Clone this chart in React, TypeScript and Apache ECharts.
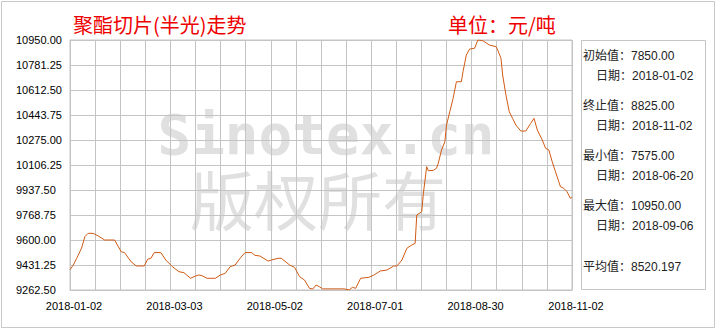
import React, { useEffect, useRef } from "react";
import * as echarts from "echarts";

// ---- data ----
const startDate = "2018-01-02";
const endDate = "2018-11-02";

const priceDates = [
  "2018-01-02", "2018-01-04", "2018-01-06", "2018-01-09", "2018-01-11", "2018-01-13", "2018-01-16", "2018-01-19",
  "2018-01-23", "2018-01-29", "2018-02-02", "2018-02-04", "2018-02-08", "2018-02-11", "2018-02-16", "2018-02-18",
  "2018-02-20", "2018-02-22", "2018-02-26", "2018-03-01", "2018-03-05", "2018-03-09", "2018-03-12", "2018-03-16",
  "2018-03-19", "2018-03-21", "2018-03-23", "2018-03-26", "2018-03-31", "2018-04-03", "2018-04-06", "2018-04-09",
  "2018-04-12", "2018-04-15", "2018-04-18", "2018-04-22", "2018-04-24", "2018-04-27", "2018-05-02", "2018-05-04",
  "2018-05-08", "2018-05-10", "2018-05-15", "2018-05-18", "2018-05-21", "2018-05-24", "2018-05-27", "2018-05-29",
  "2018-05-31", "2018-06-02", "2018-06-04", "2018-06-17", "2018-06-20", "2018-06-22", "2018-06-24", "2018-06-27",
  "2018-07-02", "2018-07-05", "2018-07-09", "2018-07-13", "2018-07-17", "2018-07-19", "2018-07-22", "2018-07-25",
  "2018-07-28", "2018-07-30", "2018-07-31", "2018-08-03", "2018-08-04", "2018-08-06", "2018-08-07", "2018-08-10",
  "2018-08-12", "2018-08-13", "2018-08-15", "2018-08-17", "2018-08-18", "2018-08-20", "2018-08-22", "2018-08-24",
  "2018-08-27", "2018-08-28", "2018-08-30", "2018-09-01", "2018-09-04", "2018-09-06", "2018-09-09", "2018-09-13",
  "2018-09-17", "2018-09-18", "2018-09-20", "2018-09-21", "2018-09-23", "2018-09-25", "2018-09-27", "2018-09-29",
  "2018-10-02", "2018-10-05", "2018-10-08", "2018-10-10", "2018-10-12", "2018-10-15", "2018-10-17", "2018-10-19",
  "2018-10-21", "2018-10-23", "2018-10-25", "2018-10-26", "2018-10-28", "2018-10-30", "2018-11-01", "2018-11-02",
];

const prices = [
  7850, 7912, 8000, 8140, 8295, 8340, 8340, 8305,
  8250, 8250, 8092, 8080, 7957, 7900, 7900, 7990,
  8003, 8080, 8080, 7980, 7890, 7822, 7809, 7733,
  7764, 7777, 7768, 7733, 7733, 7777, 7800, 7890,
  7912, 8003, 8080, 8080, 8043, 8034, 7966, 7980,
  8003, 8003, 7912, 7881, 7755, 7710, 7598, 7588,
  7642, 7620, 7590, 7590, 7575, 7611, 7598, 7733,
  7746, 7777, 7832, 7845, 7899, 7899, 7980, 8138,
  8183, 8205, 8587, 8632, 8880, 9240, 9185, 9190,
  9220, 9285, 9465, 9577, 9802, 9982, 10162, 10387,
  10387, 10522, 10747, 10828, 10838, 10950, 10940, 10882,
  10860, 10815, 10703, 10477, 10207, 9982, 9892, 9802,
  9721, 9721, 9825, 9892, 9735, 9600, 9488, 9465,
  9307, 9172, 9037, 8970, 8948, 8902, 8813, 8825,
];

const yMin = 7575;
const yMax = 10950;
const yTickLabels = [
  "9262.50", "9431.25", "9600.00", "9768.75", "9937.50", "10106.25",
  "10275.00", "10443.75", "10612.50", "10781.25", "10950.00",
];
const xTickLabels = ["2018-01-02", "2018-03-03", "2018-05-02", "2018-07-01", "2018-08-30", "2018-11-02"];
const xGridSlots = 20;

const titleText = "聚酯切片(半光)走势";
const unitText = "单位：元/吨";
const statLabels = ["初始值：7850.00", "日期：2018-01-02", "终止值：8825.00", "日期：2018-11-02",
  "最小值：7575.00", "日期：2018-06-20", "最大值：10950.00", "日期：2018-09-06", "平均值：8520.197"];

// ---- helpers ----
function buildDays(a: string, b: string): string[] {
  const out: string[] = [];
  const s = Date.parse(a + "T00:00:00Z");
  const e = Date.parse(b + "T00:00:00Z");
  for (let t = s; t <= e; t += 86400000) out.push(new Date(t).toISOString().slice(0, 10));
  return out;
}

const FONT = "'Liberation Sans', 'Noto Sans CJK SC', sans-serif";
const CJK = "'Noto Sans CJK SC', sans-serif";
const GRID_COLOR = "#c4c4c4";

export default function App() {
  const ref = useRef<HTMLDivElement>(null);
  useEffect(() => {
    if (!ref.current) return;
    const chart = echarts.init(ref.current, null, { renderer: "svg" });
    const days = buildDays(startDate, endDate);
    const slots = Array.from({ length: xGridSlots + 1 }, (_, i) => String(i));

    const statY = [56, 76, 106, 126, 156, 176, 206, 226, 267];
    const statX = [583, 596, 583, 596, 583, 596, 583, 596, 583];

    const graphics: any[] = [
      { type: "rect", shape: { x: 1.5, y: 1.5, width: 713, height: 326 }, style: { fill: "none", stroke: "#c8c8c8", lineWidth: 1 }, silent: true, z: 0 },
      { type: "text", x: 326, y: 134, z: 0, silent: true, style: { text: "Sinotex.cn", fill: "#e0e0e0", fontSize: 56, fontWeight: "bold", fontFamily: "'DejaVu Sans Mono', monospace", align: "center", verticalAlign: "middle" } },
      { type: "text", x: 318, y: 197, z: 0, silent: true, style: { text: "版权所有", fill: "#e0e0e0", fontSize: 64, fontFamily: CJK, align: "center", verticalAlign: "middle" } },
      { type: "text", x: 73, y: 24, z: 10, style: { text: titleText, fill: "#ee0000", fontSize: 20, fontFamily: CJK, verticalAlign: "middle" } },
      { type: "text", x: 448, y: 24, z: 10, style: { text: unitText, fill: "#ee0000", fontSize: 20, fontFamily: CJK, verticalAlign: "middle" } },
      { type: "rect", shape: { x: 581.5, y: 40.5, width: 124, height: 249 }, style: { fill: "#fff", stroke: GRID_COLOR, lineWidth: 1 }, z: 5 },
      ...statLabels.map((t, i) => ({
        type: "text", x: statX[i], y: statY[i], z: 10,
        style: { text: t, fill: "#222", fontSize: 12, fontFamily: FONT, verticalAlign: "middle" },
      })),
    ];

    chart.setOption({
      animation: false,
      backgroundColor: "#fff",
      grid: { left: 70, right: 148, top: 40, bottom: 40, show: true, borderColor: GRID_COLOR, borderWidth: 1, outerBoundsMode: "none" },
      xAxis: [
        { type: "category", data: days, boundaryGap: false, show: false, position: "bottom" },
        {
          type: "category", data: slots, boundaryGap: false, position: "bottom",
          axisLine: { show: true, lineStyle: { color: GRID_COLOR } },
          axisTick: { show: false },
          splitLine: { show: true, interval: 0, lineStyle: { color: GRID_COLOR, width: 1 } },
          axisLabel: {
            interval: 0, margin: 10, color: "#000", fontSize: 11, fontFamily: FONT, padding: [0, 0, 0, 8],
            formatter: (_v: string, idx: number) => (idx % 4 === 0 ? xTickLabels[idx / 4] : ""),
          },
        },
      ],
      yAxis: [
        { type: "value", min: yMin, max: yMax, show: false, position: "left" },
        {
          type: "category", data: yTickLabels, boundaryGap: false, position: "left",
          axisLine: { show: true, lineStyle: { color: GRID_COLOR } },
          axisTick: { show: false },
          splitLine: { show: true, interval: 0, lineStyle: { color: GRID_COLOR, width: 1 } },
          axisLabel: { interval: 0, margin: 54, align: "left", color: "#000", fontSize: 11, fontFamily: FONT, padding: [0, 0, 8, 0] },
        },
      ],
      graphic: graphics,
      series: [
        {
          type: "line", xAxisIndex: 0, yAxisIndex: 0, symbol: "none", z: 20,
          lineStyle: { color: "#d05a14", width: 1 },
          data: priceDates.map((d, i) => [d, prices[i]]),
        },
      ],
    });
    return () => chart.dispose();
  }, []);
  return <div ref={ref} style={{ position: "fixed", left: 0, top: 0, width: 720, height: 330, background: "#fff" }} />;
}
